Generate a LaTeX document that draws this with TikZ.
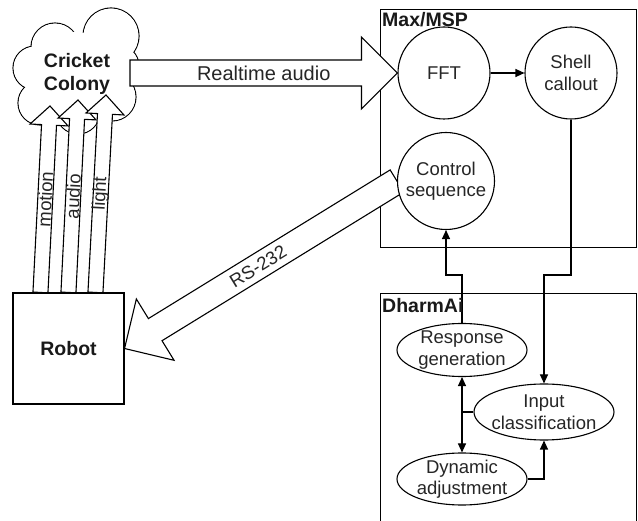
\documentclass[tikz,border=0pt]{standalone}
\usepackage{fontspec}
\setmainfont{Liberation Sans}
\usetikzlibrary{calc,arrows.meta,shapes.geometric}
\pgfdeclarelayer{bg}
\pgfdeclarelayer{mid}
\pgfsetlayers{bg,mid,main}
\newcommand\blockarrow[5]{%
  \coordinate (ba-h) at ($(#2)!#5!(#1)$);
  \filldraw[barrow] ($(#1)!#3!90:(#2)$) -- ($(ba-h)!#3!90:(#2)$) -- ($(ba-h)!#4!90:(#2)$) -- (#2)
    -- ($(ba-h)!#4!-90:(#2)$) -- ($(ba-h)!#3!-90:(#2)$) -- ($(#1)!#3!-90:(#2)$) -- cycle;}
\tikzset{
  txt/.style={font=\fontsize{18.5}{21.5}\selectfont, text=black!85},
  bigtxt/.style={font=\fontsize{20}{23}\selectfont, text=black!85},
  bold/.style={font=\fontsize{19.5}{23.5}\selectfont\bfseries, text=black!90},
  box/.style={draw, line width=1.1pt, fill=white, inner sep=0pt},
  circ/.style={circle, draw, line width=1.1pt, fill=white, inner sep=0pt, minimum size=#1, txt, align=center},
  ell/.style={ellipse, draw, line width=1.1pt, fill=white, inner sep=0pt},
  lbl/.style={txt, align=center, inner sep=0pt},
  barrow/.style={draw, line width=1.1pt, fill=white, line join=miter},
  conn/.style={draw, line width=1.1pt, -{Triangle[length=9pt,width=8pt]}},
}
\begin{document}
\begin{tikzpicture}[x=1pt,y=-1pt]
\useasboundingbox (0,0) rectangle (638,521);
% containers and cloud
\begin{pgfonlayer}{bg}
  \node[box, anchor=north west, minimum width=256pt, minimum height=238pt] (max) at (380,9) {};
  \node[box, anchor=north west, minimum width=256pt, minimum height=245pt] (dh) at (380,293) {};
  \foreach \cx/\cy/\r in {111/36/28, 55/47/24, 35/68/22, 40/103/22, 78/112/22, 112/97/24, 118/66/21}
    \draw[line width=1.1pt, fill=white] (\cx,\cy) circle (\r pt);
  \foreach \cx/\cy/\r in {111/36/28, 55/47/24, 35/68/22, 40/103/22, 78/112/22, 112/97/24, 118/66/21}
    \fill[white] (\cx,\cy) circle (\r pt - 0.6pt);
  \fill[white] (76,74) circle (42pt);
  \node[bold, align=center, inner sep=0pt] (cloud) at (77,74) {Cricket\\Colony};
\end{pgfonlayer}
% main nodes
\node[circ=92pt] (fft) at (444,73) {FFT};
\node[circ=92pt] (shell) at (571,73) {Shell\\callout};
\node[circ=97pt] (ctrl) at (446,181) {Control\\sequence};
\node[ell, minimum width=130pt, minimum height=53pt, label={[lbl]center:Response\\generation}] (resp) at (462,350) {};
\node[ell, minimum width=140pt, minimum height=56pt, label={[lbl]center:Input\\classification}] (inp) at (544,412) {};
\node[ell, minimum width=130pt, minimum height=52pt, label={[lbl]center:Dynamic\\adjustment}] (dyn) at (462,479) {};
\node[box, minimum width=111pt, minimum height=111pt, bold] (robot) at (68.5,348.5) {Robot};
% coordinates for the free ends
\coordinate (rt0) at (130,73);
\coordinate (mb) at ($(robot.north west)+(28,0)$);
\coordinate (ab) at ($(robot.north west)+(56,0)$);
\coordinate (lb) at ($(robot.north west)+(83,0)$);
\coordinate (mt) at (50,106);
\coordinate (at) at (78,100);
\coordinate (lt) at (106,95);
\coordinate (jy) at (0,275);
% block arrows
\begin{pgfonlayer}{mid}
  \blockarrow{rt0}{fft.west}{13pt}{36pt}{36pt}
  \path (rt0) -- (fft.west) node[pos=0.5, bigtxt] {Realtime audio};
  \blockarrow{ctrl.west}{robot.east}{13pt}{36pt}{36pt}
  \path (ctrl.west) -- (robot.east) node[pos=0.51, sloped, txt] {RS-232};
  \blockarrow{mb}{mt}{7.5pt}{19pt}{19pt}
  \path (mb) -- (mt) node[pos=0.5, sloped, txt] {motion};
  \blockarrow{ab}{at}{7.5pt}{19pt}{19pt}
  \path (ab) -- (at) node[pos=0.5, sloped, txt] {audio};
  \blockarrow{lb}{lt}{7.5pt}{19pt}{19pt}
  \path (lb) -- (lt) node[pos=0.5, sloped, txt] {light};
\end{pgfonlayer}
% connectors
\draw[conn] (fft.east) -- (shell.west);
\draw[conn] (resp.north) -- (resp.north |- jy) -| (ctrl.south);
\draw[conn] (shell.south) -- (shell.south |- jy) -| (inp.north);
\draw[line width=1.1pt] (inp.west) -- (inp.west -| resp.south);
\draw[conn, {Triangle[length=9pt,width=8pt]}-{Triangle[length=9pt,width=8pt]}] (resp.south) -- (dyn.north);
\draw[conn] (dyn.east) -| (inp.south);
% container labels
\node[bold, anchor=base west, inner sep=0pt] (maxlbl) at (382,27) {Max/MSP};
\node[bold, anchor=base west, inner sep=0pt] (dhlbl) at (382,313) {DharmAi};
\end{tikzpicture}
\end{document}
